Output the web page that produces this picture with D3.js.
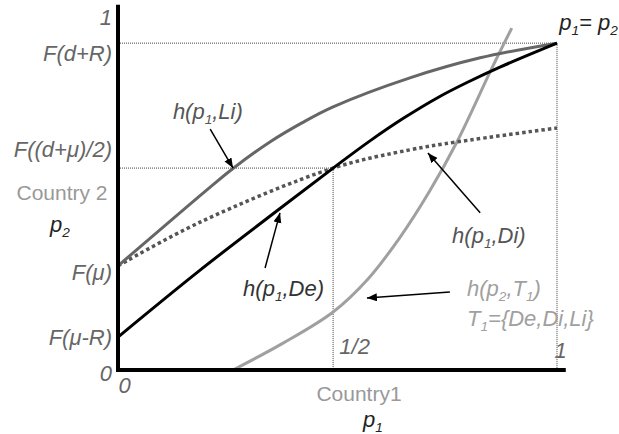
<!DOCTYPE html>
<html>
<head>
<meta charset="utf-8">
<script src="https://cdn.jsdelivr.net/npm/d3@7"></script>
<style>
  body { margin: 0; background: #fff; }
  svg { display: block; font-family: Arial, "Liberation Sans", sans-serif; }
</style>
</head>
<body>
<div class="chart"></div>
<script>
// curves, in [p1, p2] units
const curveLi = [[0, 0.291], [0.21, 0.511], [0.262, 0.563], [0.346, 0.637], [0.42, 0.691], [0.49, 0.735], [0.665, 0.816], [0.825, 0.872], [1, 0.913]];
const curveDe = [[0, 0.092], [0.187, 0.279], [0.369, 0.451], [0.49, 0.564], [0.574, 0.64], [0.65, 0.703], [0.73, 0.762], [0.795, 0.803], [0.87, 0.846], [1, 0.913]];
const curveDi = [[0, 0.291], [0.187, 0.413], [0.49, 0.564], [0.665, 0.615], [0.772, 0.637], [1, 0.676]];
const curveT1 = [[0.262, 0], [0.376, 0.075], [0.49, 0.162], [0.57, 0.255], [0.642, 0.37], [0.71, 0.5], [0.772, 0.637], [0.852, 0.844], [0.897, 0.955]];

const yTickValues = [0, 0.092, 0.291, 0.564, 0.913, 1];
const yTickLabels = ['0', 'F(μ-R)', 'F(μ)', 'F((d+μ)/2)', 'F(d+R)', '1'];
const xTickValues = [0, 0.49, 1];
const xTickLabels = ['0', '1/2', '1'];

// key points for the dotted guides
const guides = [[0.49, 0.564], [1, 0.913]];

// arrows: [fromX, fromY, toX, toY]
const arrows = [
  [0.21, 0.673, 0.262, 0.564],
  [0.335, 0.285, 0.369, 0.439],
  [0.825, 0.439, 0.706, 0.606],
  [0.756, 0.218, 0.567, 0.201]
];

// labels: [x, y, parts, colour]; a part of [text, true] is a subscript
const labels = [
  [0.125, 0.723, [['h(p'], ['1', true], [',Li)']], '#555'],
  [0.285, 0.229, [['h(p'], ['1', true], [',De)']], '#333'],
  [0.761, 0.377, [['h(p'], ['1', true], [',Di)']], '#555'],
  [0.795, 0.229, [['h(p'], ['2', true], [',T'], ['1', true], [')']], '#a0a0a0'],
  [0.795, 0.145, [['T'], ['1', true], ['={De,Di,Li}']], '#a0a0a0'],
  [1.005, 0.972, [['p'], ['1', true], ['= p'], ['2', true]], '#222']
];

const width = 619, height = 434;
const fontSize = 22;
const x = d3.scaleLinear().domain([0, 1]).range([118, 557]);
const y = d3.scaleLinear().domain([0, 1]).range([370, 12]);

const svg = d3.select('.chart').append('svg')
  .attr('width', width)
  .attr('height', height);

svg.append('defs').append('marker')
  .attr('id', 'head')
  .attr('markerUnits', 'userSpaceOnUse')
  .attr('markerWidth', 12).attr('markerHeight', 10)
  .attr('refX', 10).attr('refY', 4)
  .attr('orient', 'auto')
  .append('path')
  .attr('d', 'M0,0 L10,4 L0,8 Z')
  .attr('fill', '#000');

function richText(sel, parts, size) {
  let shifted = false;
  parts.forEach(p => {
    const t = sel.append('tspan').text(p[0]);
    if (p[1]) {
      t.attr('font-size', size * 0.62).attr('dy', 5);
      shifted = true;
    } else if (shifted) {
      t.attr('dy', -5);
      shifted = false;
    }
  });
}

// dotted guides
guides.forEach(g => {
  svg.append('line')
    .attr('x1', x(0)).attr('x2', x(g[0]))
    .attr('y1', y(g[1])).attr('y2', y(g[1]))
    .attr('stroke', '#444').attr('stroke-width', 1).attr('stroke-dasharray', '1,1');
  svg.append('line')
    .attr('x1', x(g[0])).attr('x2', x(g[0]))
    .attr('y1', y(g[1])).attr('y2', y(0))
    .attr('stroke', '#444').attr('stroke-width', 1).attr('stroke-dasharray', '1,1');
});

const line = d3.line()
  .x(d => x(d[0]))
  .y(d => y(d[1]))
  .curve(d3.curveCatmullRom.alpha(0.5));

svg.append('path').datum(curveT1)
  .attr('d', line).attr('fill', 'none')
  .attr('stroke', '#a0a0a0').attr('stroke-width', 3);

svg.append('path').datum(curveDi)
  .attr('d', line).attr('fill', 'none')
  .attr('stroke', '#555').attr('stroke-width', 3.5).attr('stroke-dasharray', '3.5,3');

svg.append('path').datum(curveLi)
  .attr('d', line).attr('fill', 'none')
  .attr('stroke', '#666').attr('stroke-width', 3);

svg.append('path').datum(curveDe)
  .attr('d', line).attr('fill', 'none')
  .attr('stroke', '#000').attr('stroke-width', 3);

// axes
const yLabelNudge = [3, 0, 7, -19, 10, 5];
const yAxis = svg.append('g')
  .attr('transform', 'translate(' + x(0) + ',0)')
  .call(d3.axisLeft(y).tickValues(yTickValues).tickSize(0).tickPadding(6)
    .tickFormat((d, i) => yTickLabels[i]));
yAxis.select('.domain').remove();
yAxis.selectAll('text')
  .attr('font-size', fontSize).attr('font-style', 'italic')
  .attr('fill', '#666').attr('font-family', 'Arial, "Liberation Sans", sans-serif')
  .attr('y', (d, i) => yLabelNudge[i]);

const xLabelShift = [[6, 15], [21, -24], [3, -20]];
const xAxis = svg.append('g')
  .attr('transform', 'translate(0,' + y(0) + ')')
  .call(d3.axisBottom(x).tickValues(xTickValues).tickSize(0).tickPadding(0)
    .tickFormat((d, i) => xTickLabels[i]));
xAxis.select('.domain').remove();
xAxis.selectAll('text')
  .attr('font-size', fontSize).attr('font-style', 'italic')
  .attr('fill', '#666').attr('font-family', 'Arial, "Liberation Sans", sans-serif')
  .attr('dy', '0.35em')
  .attr('x', (d, i) => xLabelShift[i][0])
  .attr('y', (d, i) => xLabelShift[i][1]);

svg.append('line')
  .attr('x1', x(0)).attr('x2', x(0))
  .attr('y1', y(1.02)).attr('y2', y(0) + 2)
  .attr('stroke', '#000').attr('stroke-width', 4);
svg.append('line')
  .attr('x1', x(0) - 2).attr('x2', x(1.02))
  .attr('y1', y(0)).attr('y2', y(0))
  .attr('stroke', '#000').attr('stroke-width', 4);

// arrows
arrows.forEach(a => {
  svg.append('line')
    .attr('x1', x(a[0])).attr('y1', y(a[1]))
    .attr('x2', x(a[2])).attr('y2', y(a[3]))
    .attr('stroke', '#000').attr('stroke-width', 1.5)
    .attr('marker-end', 'url(#head)');
});

// curve labels
labels.forEach(l => {
  const t = svg.append('text')
    .attr('x', x(l[0])).attr('y', y(l[1]))
    .attr('dy', '0.35em')
    .attr('font-size', fontSize).attr('font-style', 'italic')
    .attr('fill', l[3]);
  richText(t, l[2], fontSize);
});

// axis titles
svg.append('text').attr('x', 62).attr('y', 193).attr('dy', '0.35em')
  .attr('text-anchor', 'middle').attr('font-size', 21).attr('fill', '#999')
  .text('Country 2');
richText(svg.append('text').attr('x', 50).attr('y', 224).attr('dy', '0.35em')
  .attr('font-size', fontSize).attr('font-style', 'italic').attr('fill', '#222'), [['p'], ['2', true]], fontSize);

svg.append('text').attr('x', 359).attr('y', 394).attr('dy', '0.35em')
  .attr('text-anchor', 'middle').attr('font-size', 21).attr('fill', '#999')
  .text('Country1');
richText(svg.append('text').attr('x', 363).attr('y', 419).attr('dy', '0.35em')
  .attr('font-size', fontSize).attr('font-style', 'italic').attr('fill', '#222'), [['p'], ['1', true]], fontSize);
</script>
</body>
</html>
